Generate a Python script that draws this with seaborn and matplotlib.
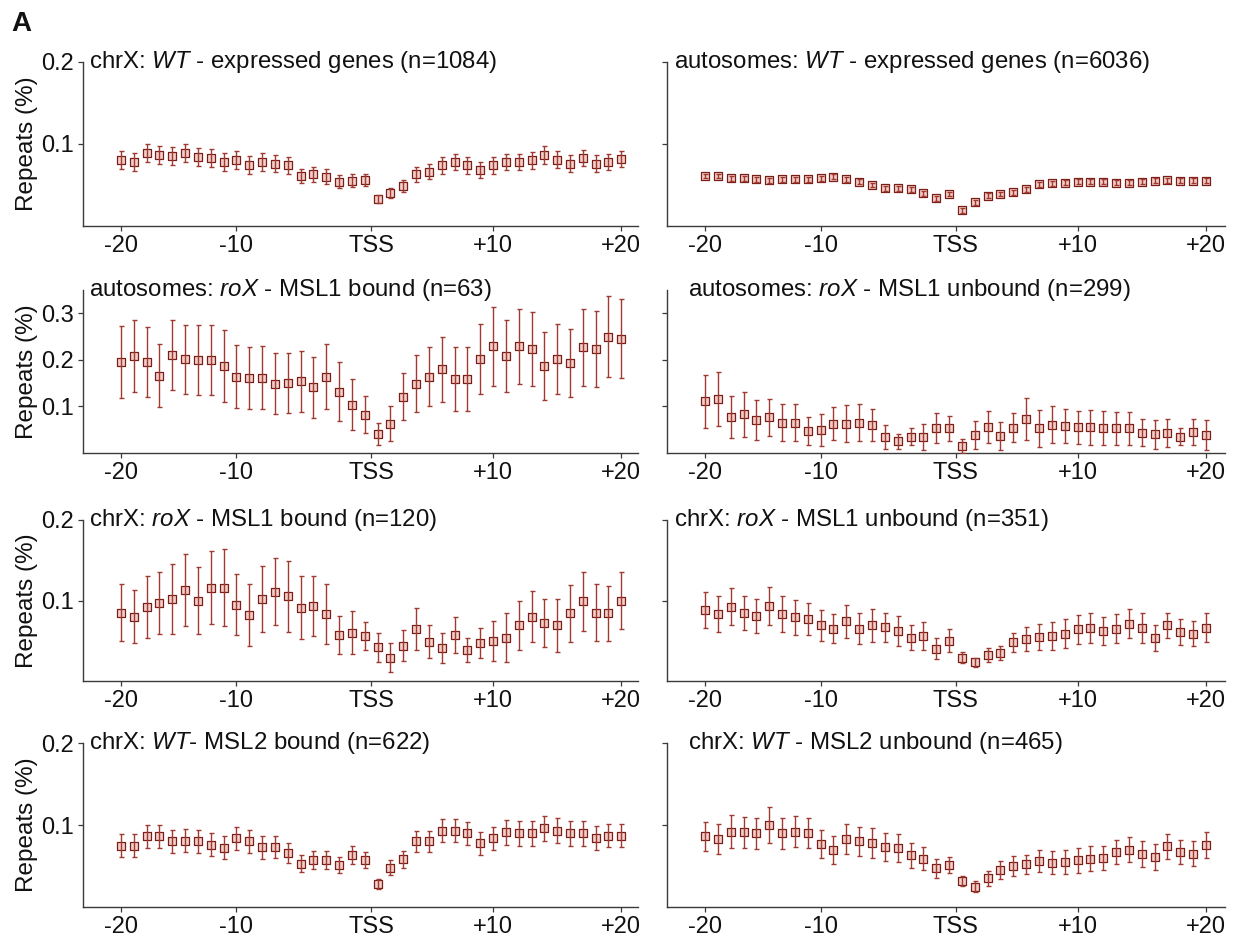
import matplotlib
matplotlib.use("Agg")
import matplotlib.pyplot as plt
import numpy as np
import pandas as pd
import seaborn as sns

# ---------------- data ----------------
bins = list(range(40))
tick_pos = [0, 9, 19.5, 29, 39]
tick_labels = ["-20", "-10", "TSS", "+10", "+20"]

titles = [
    r"chrX: $\mathit{WT}$ - expressed genes (n=1084)",
    r"autosomes: $\mathit{WT}$ - expressed genes (n=6036)",
    r"autosomes: $\mathit{roX}$ - MSL1 bound (n=63)",
    r"autosomes: $\mathit{roX}$ - MSL1 unbound (n=299)",
    r"chrX: $\mathit{roX}$ - MSL1 bound (n=120)",
    r"chrX: $\mathit{roX}$ - MSL1 unbound (n=351)",
    r"chrX: $\mathit{WT}$- MSL2 bound (n=622)",
    r"chrX: $\mathit{WT}$ - MSL2 unbound (n=465)",
]

p1_mean = [.080, .078, .089, .087, .085, .089, .084, .083, .078, .080,
           .074, .078, .076, .074, .061, .063, .060, .054, .055, .056,
           .033, .040, .049, .063, .066, .074, .078, .074, .068, .074,
           .078, .078, .080, .086, .081, .076, .083, .076, .078, .082]
p1_err = [.011, .011, .011, .011, .011, .011, .011, .011, .011, .011,
          .011, .011, .010, .010, .009, .009, .009, .008, .008, .007,
          .005, .006, .007, .009, .009, .010, .010, .010, .010, .010,
          .010, .010, .010, .011, .010, .010, .010, .010, .010, .010]

p2_mean = [.061, .061, .058, .058, .057, .056, .057, .057, .057, .058,
           .060, .057, .054, .050, .046, .046, .045, .040, .034, .039,
           .019, .029, .037, .039, .041, .045, .051, .052, .053, .054,
           .054, .054, .053, .053, .054, .055, .056, .055, .055, .055]
p2_err = [.003] * 40

p3_mean = [.195, .209, .195, .166, .211, .201, .200, .200, .187, .164,
           .161, .162, .149, .150, .154, .141, .164, .132, .104, .082,
           .041, .063, .121, .149, .164, .180, .159, .159, .202, .229,
           .209, .229, .223, .186, .201, .194, .227, .223, .250, .245]
p3_err = [.077, .077, .075, .068, .075, .074, .075, .075, .078, .068,
          .067, .068, .066, .065, .066, .065, .069, .064, .055, .040,
          .023, .037, .050, .062, .064, .070, .068, .068, .075, .085,
          .077, .081, .080, .073, .075, .073, .083, .082, .087, .085]

p4_mean = [.111, .116, .077, .083, .070, .077, .065, .065, .047, .049,
           .063, .063, .065, .060, .035, .025, .035, .035, .053, .053,
           .016, .039, .056, .037, .054, .073, .053, .061, .058, .055,
           .055, .054, .053, .053, .044, .040, .042, .035, .046, .039]
p4_err = [.057, .057, .045, .048, .043, .040, .040, .040, .030, .034,
          .035, .039, .040, .034, .026, .016, .018, .028, .032, .027,
          .015, .030, .034, .030, .031, .045, .040, .040, .037, .036,
          .037, .037, .036, .036, .030, .031, .030, .018, .028, .032]

p5_mean = [.085, .080, .092, .097, .102, .113, .100, .116, .116, .095,
           .082, .102, .111, .105, .091, .093, .083, .057, .060, .056,
           .042, .029, .044, .065, .049, .041, .057, .038, .047, .050,
           .054, .069, .080, .072, .069, .084, .099, .085, .084, .100]
p5_err = [.035, .033, .038, .039, .043, .045, .041, .045, .048, .038,
          .038, .041, .042, .044, .039, .037, .037, .024, .027, .017,
          .018, .018, .019, .026, .021, .019, .022, .015, .019, .025,
          .030, .030, .032, .030, .033, .035, .037, .035, .034, .035]

p6_mean = [.088, .083, .092, .084, .081, .093, .083, .079, .077, .069,
           .065, .074, .065, .069, .067, .062, .054, .056, .040, .050,
           .029, .023, .032, .035, .048, .052, .055, .056, .059, .064,
           .066, .062, .065, .071, .066, .053, .069, .061, .059, .066]
p6_err = [.022, .022, .023, .021, .021, .024, .022, .022, .020, .019,
          .018, .020, .019, .020, .018, .019, .016, .017, .013, .014,
          .007, .006, .009, .009, .012, .015, .016, .017, .018, .018,
          .019, .017, .018, .018, .019, .016, .016, .016, .016, .018]

p7_mean = [.075, .075, .086, .086, .080, .081, .080, .076, .072, .084,
           .080, .073, .073, .066, .053, .057, .057, .051, .063, .057,
           .028, .048, .058, .080, .080, .093, .093, .090, .078, .084,
           .091, .090, .090, .096, .093, .090, .090, .084, .087, .087]
p7_err = [.014, .014, .014, .014, .014, .014, .014, .014, .014, .014,
          .014, .014, .013, .012, .010, .011, .011, .010, .011, .010,
          .006, .009, .010, .013, .013, .014, .014, .014, .014, .014,
          .015, .015, .015, .015, .015, .015, .015, .015, .014, .014]

p8_mean = [.086, .083, .092, .091, .090, .100, .090, .092, .090, .077,
           .069, .083, .080, .078, .073, .072, .063, .059, .047, .051,
           .032, .025, .035, .045, .050, .052, .056, .054, .055, .057,
           .059, .060, .067, .070, .065, .061, .074, .067, .065, .076]
p8_err = [.018, .018, .020, .019, .019, .022, .019, .019, .018, .017,
          .017, .018, .018, .018, .017, .017, .015, .014, .012, .010,
          .006, .007, .009, .011, .012, .012, .013, .014, .015, .015,
          .015, .015, .015, .015, .016, .016, .015, .015, .015, .016]

means = [p1_mean, p2_mean, p3_mean, p4_mean, p5_mean, p6_mean, p7_mean, p8_mean]
errs = [p1_err, p2_err, p3_err, p4_err, p5_err, p6_err, p7_err, p8_err]

row_ylims = [(0, 0.2), (0, 0.35), (0, 0.2), (0, 0.2)]
row_yticks = [[0.1, 0.2], [0.1, 0.2, 0.3], [0.1, 0.2], [0.1, 0.2]]
row_yticklabels = [["0.1", "0.2"], ["0.1", "0.2", "0.3"], ["0.1", "0.2"], ["0.1", "0.2"]]

# ---------------- style ----------------
sns.set_style("ticks")
plt.rcParams["font.family"] = ["Liberation Sans", "DejaVu Sans"]
plt.rcParams["mathtext.fontset"] = "custom"
plt.rcParams["mathtext.rm"] = "Liberation Sans"
plt.rcParams["mathtext.it"] = "Liberation Sans:italic"
plt.rcParams["axes.edgecolor"] = "#3a3a3a"
plt.rcParams["xtick.color"] = "#3a3a3a"
plt.rcParams["ytick.color"] = "#3a3a3a"
plt.rcParams["xtick.labelcolor"] = "#111111"
plt.rcParams["ytick.labelcolor"] = "#111111"

W, H = 1234, 940
fig = plt.figure(figsize=(W / 100, H / 100), dpi=100)

col_px = [(83, 555, (-2.96, 40.3)), (667, 558, (-2.96, 40.48))]
row_px = [(62, 226), (290, 453), (520, 681), (743, 907)]
title_x_px = [[89, 674], [89, 688], [89, 674], [89, 688]]

edge_col = "#7a1e18"
face_col = "#f4cfca"
bar_col = "#a03a30"

for r in range(4):
    top, bot = row_px[r]
    for c in range(2):
        left, width, xlim = col_px[c]
        ax = fig.add_axes([left / W, 1 - bot / H, width / W, (bot - top) / H])
        k = r * 2 + c
        df = pd.DataFrame({"bin": bins, "mean": means[k], "err": errs[k]})
        sns.scatterplot(data=df, x="bin", y="mean", marker="s", s=34,
                        color=face_col, edgecolor=edge_col, linewidth=0.9,
                        ax=ax, zorder=3, legend=False)
        ax.errorbar(df["bin"], df["mean"], yerr=df["err"], fmt="none",
                    ecolor=bar_col, elinewidth=1.0, capsize=1.8,
                    capthick=1.0, zorder=4)
        ax.set_xlim(*xlim)
        ax.set_ylim(*row_ylims[r])
        ax.set_xticks(tick_pos)
        ax.set_xticklabels(tick_labels)
        ax.set_yticks(row_yticks[r])
        if c == 0:
            ax.set_yticklabels(row_yticklabels[r])
            ax.set_ylabel("Repeats (%)", fontsize=17.5, color="#111111")
            ax.yaxis.set_label_coords((38 - left) / width, 0.5)
        else:
            ax.set_yticklabels([])
            ax.set_ylabel("")
        ax.set_xlabel("")
        ax.tick_params(axis="both", labelsize=17, length=3.5, width=0.9, pad=3)
        for sp in ["top", "right"]:
            ax.spines[sp].set_visible(False)
        for sp in ["left", "bottom"]:
            ax.spines[sp].set_linewidth(1.0)
        tx = (title_x_px[r][c] - left) / width
        ax.text(tx, 1.0, titles[k], transform=ax.transAxes, fontsize=17.3,
                ha="left", va="center", color="#111111", clip_on=False)

fig.text(11 / W, 1 - 31 / H, "A", fontsize=20, fontweight="bold",
         ha="left", va="baseline", color="#111111")

fig.savefig("out.png", dpi=100)
